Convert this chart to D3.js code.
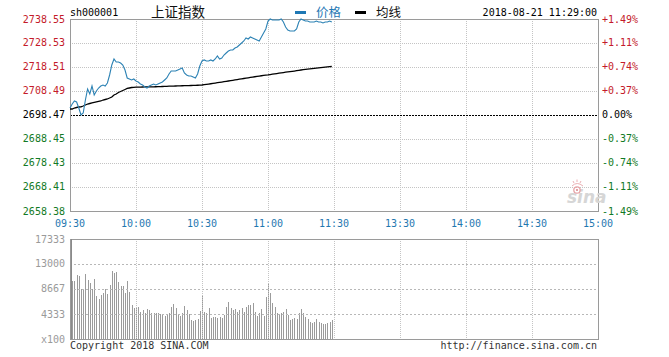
<!DOCTYPE html>
<html><head><meta charset="utf-8">
<script src="https://cdn.jsdelivr.net/npm/d3@7"></script>
<style>
html,body{margin:0;padding:0;background:#fff;}
svg{display:block;}
</style></head>
<body>
<script>
// ---------- DATA ----------
const timeLabels = ["09:30","10:00","10:30","11:00","11:30","13:30","14:00","14:30","15:00"];
const timeTicks = [0,30,60,90,120,150,180,210,240];
const priceTicks = ["2738.55","2728.53","2718.51","2708.49","2698.47","2688.45","2678.43","2668.41","2658.38"];
const pctTicks = ["+1.49%","+1.11%","+0.74%","+0.37%","0.00%","-0.37%","-0.74%","-1.11%","-1.49%"];
const volTicks = [17333,13000,8667,4333,0];
const volTickLabels = ["17333","13000","8667","4333","x100"];
const prevClose = 2698.47;

const price = [
 2701.39,2703.06,2704.32,2703.90,2701.39,2698.47,2699.31,2704.73,2709.33,2707.24,
 2710.58,2706.82,2708.49,2709.74,2710.58,2711.00,2710.58,2711.83,2715.17,2719.35,
 2721.85,2720.60,2720.60,2720.18,2719.35,2717.26,2713.92,2713.50,2713.08,2713.50,
 2712.67,2712.25,2711.41,2711.00,2710.16,2709.74,2710.58,2711.00,2711.41,2711.00,
 2711.41,2711.83,2712.25,2713.08,2713.92,2715.59,2716.84,2716.84,2716.84,2717.26,
 2717.68,2718.10,2716.01,2715.17,2714.75,2714.75,2714.34,2713.92,2715.59,2718.93,
 2721.02,2721.44,2721.02,2721.02,2721.44,2721.02,2721.85,2723.10,2721.85,2722.27,
 2723.52,2724.36,2725.19,2725.61,2725.61,2726.45,2726.86,2727.70,2728.53,2729.37,
 2730.62,2730.20,2731.04,2730.62,2730.20,2729.79,2729.37,2731.04,2732.71,2734.38,
 2737.72,2738.55,2738.14,2738.14,2738.14,2738.14,2738.55,2737.30,2735.21,2733.96,
 2733.54,2733.54,2733.54,2734.38,2737.30,2738.55,2738.14,2737.72,2737.72,2737.30,
 2737.30,2737.30,2737.72,2737.30,2737.30,2736.88,2737.30,2737.30,2737.72,2737.30
];
const avgPrice = [
 2700.98,2700.98,2701.39,2701.60,2701.81,2701.85,2702.23,2702.65,2703.06,2703.27,
 2703.48,2703.69,2703.90,2704.11,2704.32,2704.73,2704.94,2705.15,2705.57,2705.99,
 2706.82,2707.24,2707.86,2708.28,2708.70,2709.12,2709.54,2709.74,2709.95,2710.04,
 2710.08,2710.12,2710.13,2710.16,2710.17,2710.19,2710.20,2710.22,2710.25,2710.27,
 2710.29,2710.33,2710.36,2710.40,2710.44,2710.48,2710.52,2710.55,2710.58,2710.61,
 2710.64,2710.67,2710.70,2710.72,2710.75,2710.78,2710.81,2710.84,2710.88,2710.93,
 2711.00,2711.12,2711.25,2711.38,2711.52,2711.66,2711.80,2711.94,2712.08,2712.22,
 2712.37,2712.52,2712.66,2712.80,2712.95,2713.10,2713.25,2713.40,2713.55,2713.70,
 2713.86,2714.01,2714.15,2714.30,2714.44,2714.58,2714.72,2714.86,2715.00,2715.10,
 2715.20,2715.35,2715.50,2715.64,2715.78,2715.92,2716.06,2716.20,2716.33,2716.45,
 2716.56,2716.67,2716.80,2716.95,2717.10,2717.26,2717.38,2717.50,2717.61,2717.72,
 2717.83,2717.94,2718.05,2718.16,2718.26,2718.36,2718.46,2718.55,2718.64,2718.72
];
const volume = [
 12500,
 10111,10111,11093,10920,8609,8609,11267,10227,9649,8609,
 10400,7453,6876,7627,7916,8609,7800,9360,11787,11382,
 11556,9937,9187,9187,7916,10111,8204,5893,5316,5316,
 5489,4737,5027,4564,5143,5027,4564,4449,4449,4449,
 4333,4160,3987,4160,4449,5604,6067,5316,4333,3987,
 4449,5778,5027,4333,3293,3177,3293,3409,4911,
 7453,4737,4449,5316,3582,3756,3871,3582,3756,3582,
 4160,5604,6471,5316,5027,5143,4737,5027,5316,4737,
 5604,5893,5893,6182,4737,3987,4449,5143,3987,7222,
 9533,7916,6298,5489,4449,4160,4449,4737,5143,4160,
 3293,3409,3582,3409,4449,5143,4564,3756,3409,3004,
 2831,3004,3409,3004,2716,2600,2600,2716,3004,3293
];

// ---------- LAYOUT ----------
const W = 669, H = 357;
const L = 70, R = 598;
const mainTop = 19, mainBot = 211;
const volTop = 239, volBot = 339;
const mono = "'DejaVu Sans Mono', 'Liberation Mono', monospace";
const cjk = "'Noto Sans CJK SC', sans-serif";
const red = "#c41a2a", green = "#127a25", blue = "#1f78b0";
const gridCol = "#c4c4c4", borderCol = "#9a9a9a";

const svg = d3.select("body").append("svg").attr("width", W).attr("height", H);

const x = d3.scaleLinear().domain([0, 240]).range([L, R]);
const y = d3.scaleLinear().domain([+priceTicks[8], +priceTicks[0]]).range([mainBot, mainTop]);
const yv = d3.scaleLinear().domain([0, 17333]).range([volBot, volTop]);
const crisp = v => Math.round(v) + 0.5;

// ---------- MAIN PANEL GRID ----------
const g = svg.append("g");
g.selectAll("line.hg").data(priceTicks.slice(1, 8).filter((d,i)=>i!==3)).enter().append("line")
  .attr("x1", L).attr("x2", R)
  .attr("y1", d => crisp(y(+d))).attr("y2", d => crisp(y(+d)))
  .attr("stroke", gridCol).attr("stroke-dasharray", "1,1");
g.selectAll("line.vg").data(timeTicks.slice(1, 8)).enter().append("line")
  .attr("y1", mainTop).attr("y2", mainBot)
  .attr("x1", d => crisp(x(d))).attr("x2", d => crisp(x(d)))
  .attr("stroke", gridCol).attr("stroke-dasharray", "1,1");
// zero line
g.append("line").attr("x1", L).attr("x2", R)
  .attr("y1", crisp(y(prevClose))).attr("y2", crisp(y(prevClose)))
  .attr("stroke", "#000").attr("stroke-dasharray", "2,1");

// sina logo watermark
const logo = svg.append("g");
logo.append("text").attr("x", 567).attr("y", 203).text("sina")
  .attr("font-family", "'DejaVu Sans', sans-serif").attr("font-style", "italic")
  .attr("font-weight", "bold").attr("font-size", 17).attr("fill", "#d6d6d6");
logo.append("circle").attr("cx", 577).attr("cy", 190).attr("r", 3.2)
  .attr("fill", "none").attr("stroke", "#e7a4a8").attr("stroke-width", 1.3);
logo.append("circle").attr("cx", 577).attr("cy", 190).attr("r", 1)
  .attr("fill", "#d98088");
logo.append("path").attr("d", "M572,186 Q577,181 583,186 M574,183 l-1,-2 M577,182 l0,-2.5 M580,183 l1,-2")
  .attr("fill", "none").attr("stroke", "#eab0b4").attr("stroke-width", 1);

// border
g.append("rect").attr("x", L + 0.5).attr("y", mainTop + 0.5)
  .attr("width", R - L).attr("height", mainBot - mainTop)
  .attr("fill", "none").attr("stroke", borderCol);

// lines
const idx = d3.range(price.length);
const lineP = d3.line().x(i => x(i)).y(i => y(price[i]));
const lineA = d3.line().x(i => x(i)).y(i => y(avgPrice[i]));
svg.append("path").datum(idx).attr("d", lineA).attr("fill", "none")
  .attr("stroke", "#000").attr("stroke-width", 1.3);
svg.append("path").datum(idx).attr("d", lineP).attr("fill", "none")
  .attr("stroke", "#2c82b4").attr("stroke-width", 1.1);

// left price labels
svg.selectAll("text.pl").data(priceTicks).enter().append("text")
  .attr("x", 65).attr("y", d => y(+d)).attr("dy", "0.35em")
  .attr("text-anchor", "end").attr("font-family", mono).attr("font-size", 10)
  .attr("fill", (d,i) => i < 4 ? red : (i === 4 ? "#000" : green)).text(d => d);
// right pct labels
svg.selectAll("text.pr").data(pctTicks).enter().append("text")
  .attr("x", 602).attr("y", (d,i) => y(+priceTicks[i])).attr("dy", "0.35em")
  .attr("font-family", mono).attr("font-size", 10)
  .attr("fill", (d,i) => i < 4 ? red : (i === 4 ? "#000" : green)).text(d => d);
// time labels
svg.selectAll("text.tl").data(timeTicks).enter().append("text")
  .attr("x", d => x(d)).attr("y", 223).attr("dy", "0.35em")
  .attr("text-anchor", "middle").attr("font-family", mono).attr("font-size", 10)
  .attr("fill", blue).text((d,i) => timeLabels[i]);

// header
svg.append("text").attr("x", 70).attr("y", 12.5).attr("dy", "0.35em")
  .attr("font-family", mono).attr("font-size", 10).attr("fill", "#000").text("sh000001");
svg.append("text").attr("x", 151).attr("y", 12.5).attr("dy", "0.36em")
  .attr("font-family", cjk).attr("font-size", 13.5).attr("fill", "#111").text("上证指数");
svg.append("rect").attr("x", 295).attr("y", 11).attr("width", 11).attr("height", 3).attr("fill", "#1f78b4");
svg.append("text").attr("x", 316).attr("y", 12.5).attr("dy", "0.36em")
  .attr("font-family", cjk).attr("font-size", 12.5).attr("fill", "#1f78b4").text("价格");
svg.append("rect").attr("x", 355).attr("y", 11).attr("width", 11).attr("height", 3).attr("fill", "#000");
svg.append("text").attr("x", 376).attr("y", 12.5).attr("dy", "0.36em")
  .attr("font-family", cjk).attr("font-size", 12.5).attr("fill", "#111").text("均线");
svg.append("text").attr("x", 597).attr("y", 12).attr("dy", "0.35em").attr("text-anchor", "end")
  .attr("font-family", mono).attr("font-size", 10).attr("fill", "#000").text("2018-08-21 11:29:00");

// ---------- VOLUME PANEL ----------
const gv = svg.append("g");
gv.selectAll("line.bar").data(volume).enter().append("line")
  .attr("x1", (d,i) => crisp(x(i))).attr("x2", (d,i) => crisp(x(i)))
  .attr("y1", volBot).attr("y2", d => Math.round(yv(d)))
  .attr("stroke", "#9b9b9b").attr("stroke-width", 1);
gv.selectAll("line.vhg").data(volTicks.slice(1, 4)).enter().append("line")
  .attr("x1", L).attr("x2", R)
  .attr("y1", d => crisp(yv(d))).attr("y2", d => crisp(yv(d)))
  .attr("stroke", "#b8b8b8").attr("stroke-dasharray", "2,2");
gv.selectAll("line.vvg").data(timeTicks.slice(1, 8)).enter().append("line")
  .attr("y1", volTop).attr("y2", volBot)
  .attr("x1", d => crisp(x(d))).attr("x2", d => crisp(x(d)))
  .attr("stroke", gridCol).attr("stroke-dasharray", "1,1");
gv.append("rect").attr("x", L + 0.5).attr("y", volTop + 0.5)
  .attr("width", R - L).attr("height", volBot - volTop)
  .attr("fill", "none").attr("stroke", borderCol);
gv.append("line").attr("x1", L + 1.5).attr("x2", L + 1.5).attr("y1", volTop).attr("y2", volBot)
  .attr("stroke", "#8a8a8a");
svg.selectAll("text.vl").data(volTicks).enter().append("text")
  .attr("x", 65).attr("y", d => yv(d)).attr("dy", "0.35em")
  .attr("text-anchor", "end").attr("font-family", mono).attr("font-size", 10)
  .attr("fill", "#9a9a9a").text((d,i) => volTickLabels[i]);

// footer
svg.append("text").attr("x", 70).attr("y", 345.5).attr("dy", "0.35em")
  .attr("font-family", mono).attr("font-size", 10).attr("fill", "#333").text("Copyright 2018 SINA.COM");
svg.append("text").attr("x", 597).attr("y", 345).attr("dy", "0.35em").attr("text-anchor", "end")
  .attr("font-family", mono).attr("font-size", 10).attr("fill", "#333").text("http://finance.sina.com.cn");
</script>
</body></html>
